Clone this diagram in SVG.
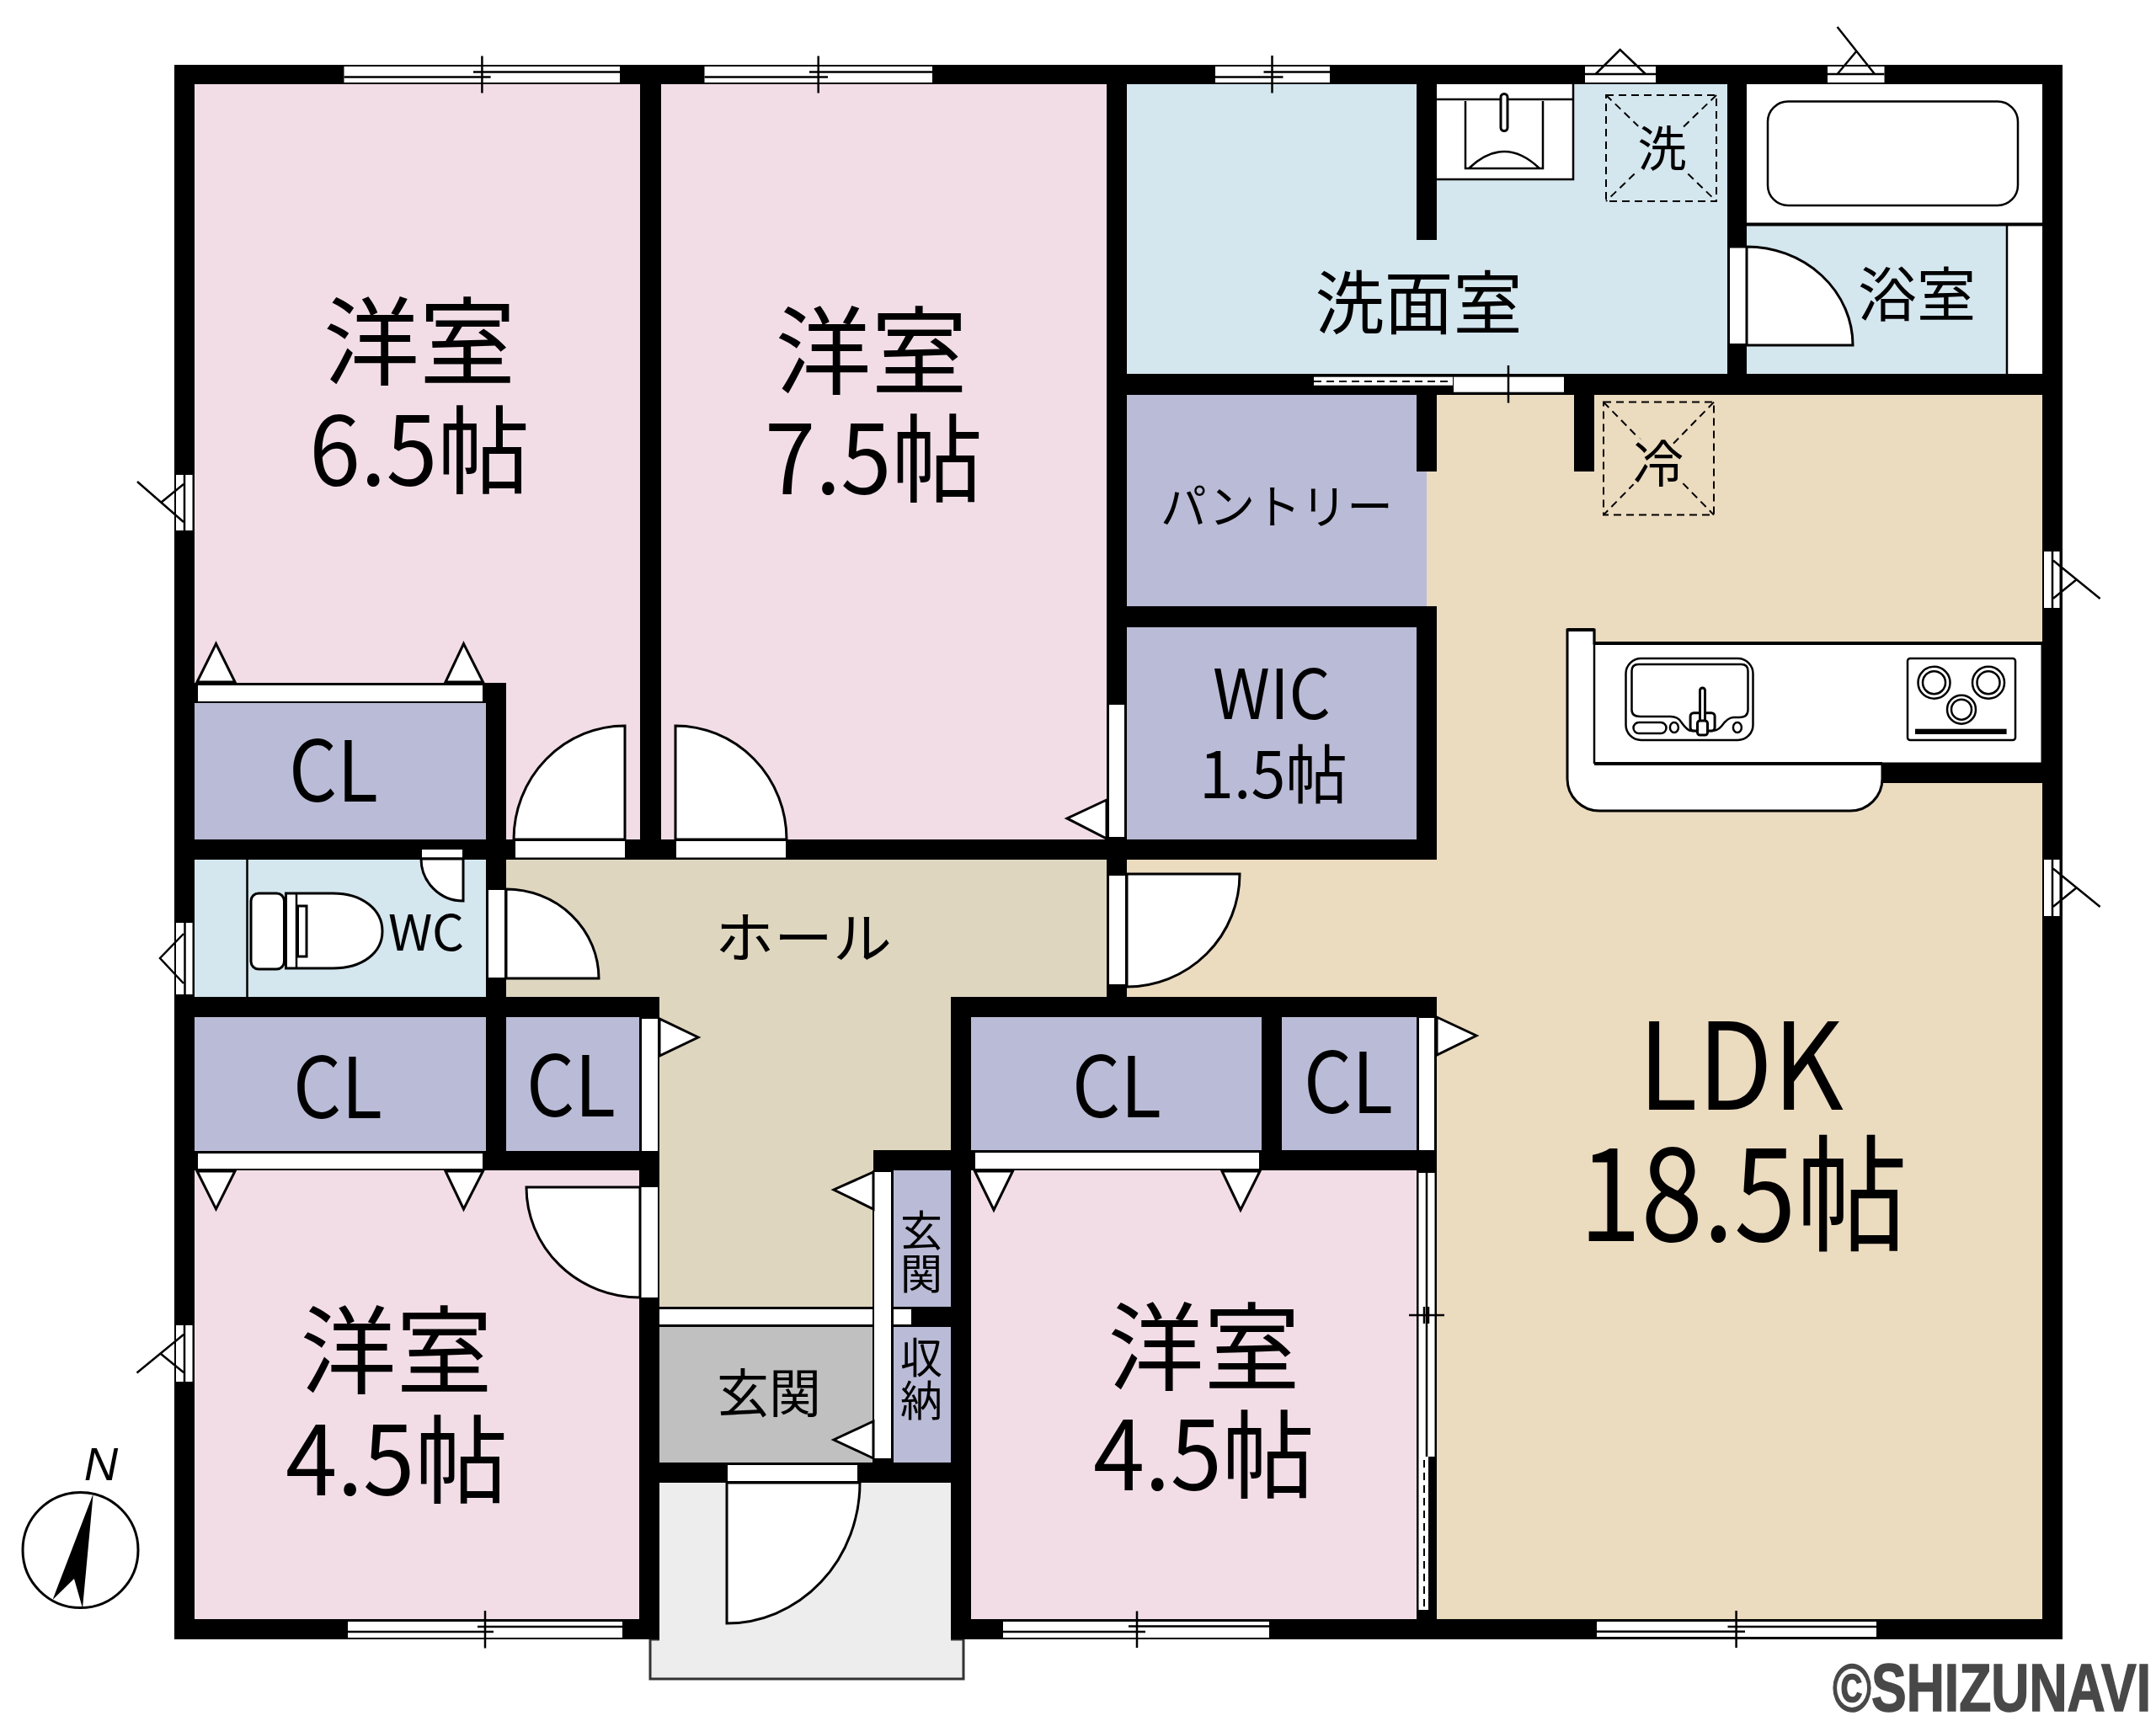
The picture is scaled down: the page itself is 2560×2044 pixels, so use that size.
<svg xmlns="http://www.w3.org/2000/svg" width="2560" height="2044" viewBox="0 0 2560 2044">
<style>
text{font-family:"Noto Sans CJK JP","Noto Sans",sans-serif;fill:#000}
.m{text-anchor:middle}
.pink{fill:#f2dde6}.blue{fill:#d4e6ee}.lav{fill:#babbd6}.ldk{fill:#ebdbbf}.hall{fill:#ded6bf}.gray{fill:#c0c0c0}.porch{fill:#ededed}
.w{fill:#000}
.o{fill:#fff}
.d{fill:#fff;stroke:#000;stroke-width:3;stroke-linejoin:miter}
.l{fill:none;stroke:#000;stroke-width:2.5}
.t{fill:none;stroke:#000;stroke-width:4}
.da{fill:none;stroke:#000;stroke-width:2;stroke-dasharray:9 6}
.r112{font-size:114px}
.cl{font-size:100px}
.v{font-size:50px}
</style>
<rect width="2560" height="2044" fill="#fff"/>

<g id="room-ldk"><rect class="ldk" x="1338" y="469" width="1087" height="1454"/></g>
<g id="room-hall"><path class="hall" d="M601,1020H1314V1184H1130V1552H783V1184H601Z"/></g>
<g id="room-genkan"><rect class="gray" x="783" y="1576" width="254" height="161"/></g>
<g id="porch"><rect class="porch" x="772" y="1947" width="372" height="47" stroke="#333" stroke-width="3"/><rect class="porch" x="783" y="1761" width="346" height="190"/></g>
<g id="room-western-65"><rect class="pink" x="231" y="100" width="529" height="897"/></g>
<g id="room-western-75"><rect class="pink" x="785" y="100" width="529" height="897"/></g>
<g id="room-western-45-left"><rect class="pink" x="231" y="1390" width="529" height="533"/></g>
<g id="room-western-45-right"><rect class="pink" x="1153" y="1390" width="529" height="533"/></g>
<g id="room-wash"><rect class="blue" x="1338" y="100" width="713" height="344"/></g>
<g id="room-bath"><rect class="o" x="2074" y="100" width="351" height="166"/><rect class="blue" x="2074" y="268" width="351" height="176"/><rect class="o" x="2383" y="268" width="42" height="176"/><path class="l" d="M2383,268V444"/><rect class="l" x="2099" y="120.500" width="297" height="123.500" rx="24"/><path class="t" d="M2074,266.500H2425"/></g>
<g id="room-wc"><rect class="blue" x="231" y="1020" width="346" height="164"/><path class="l" d="M293.500,1020V1184"/></g>
<g id="room-pantry"><rect class="lav" x="1338" y="469" width="356" height="251"/></g>
<g id="room-wic"><rect class="lav" x="1338" y="745" width="344" height="252"/></g>
<g id="room-cl-1"><rect class="lav" x="231" y="835" width="346" height="162"/></g>
<g id="room-cl-2"><rect class="lav" x="231" y="1208" width="346" height="159"/></g>
<g id="room-cl-3"><rect class="lav" x="601" y="1208" width="158" height="159"/></g>
<g id="room-cl-4"><rect class="lav" x="1153" y="1208" width="346" height="158"/></g>
<g id="room-cl-5"><rect class="lav" x="1522" y="1208" width="160" height="158"/></g>
<g id="room-storage-1"><rect class="lav" x="1061" y="1390" width="68" height="162"/></g>
<g id="room-storage-2"><rect class="lav" x="1061" y="1576" width="68" height="161"/></g>

<g id="walls" class="w">
<rect x="207" y="77" width="2242" height="23"/>
<rect x="207" y="77" width="24" height="1870"/>
<rect x="2425" y="77" width="24" height="1870"/>
<rect x="207" y="1923" width="576" height="24"/>
<rect x="1129" y="1923" width="1320" height="24"/>
<rect x="760" y="100" width="25" height="897"/>
<rect x="207" y="997" width="1499" height="24"/>
<rect x="207" y="811" width="394" height="24"/>
<rect x="577" y="811" width="24" height="186"/>
<rect x="577" y="997" width="24" height="393"/>
<rect x="207" y="1184" width="576" height="24"/>
<rect x="207" y="1367" width="576" height="23"/>
<rect x="759" y="1184" width="24" height="763"/>
<rect x="1129" y="1184" width="577" height="24"/>
<rect x="1129" y="1184" width="24" height="763"/>
<rect x="1498" y="1208" width="24" height="182"/>
<rect x="1682" y="1184" width="24" height="739"/>
<rect x="1153" y="1366" width="553" height="24"/>
<rect x="1037" y="1366" width="92" height="24"/>
<rect x="1036" y="1390" width="25" height="347"/>
<rect x="783" y="1552" width="347" height="24"/>
<rect x="760" y="1737" width="393" height="24"/>
<rect x="1314" y="100" width="24" height="1108"/>
<rect x="1314" y="444" width="1135" height="25"/>
<rect x="2051" y="100" width="23" height="344"/>
<rect x="1682" y="100" width="24" height="185"/>
<rect x="1682" y="469" width="24" height="91"/>
<rect x="1869" y="469" width="24" height="91"/>
<rect x="1338" y="720" width="368" height="25"/>
<rect x="1682" y="720" width="24" height="301"/>
<rect x="2234.500" y="908" width="191" height="22"/>
</g>

<g id="door-bands" class="o">
<rect x="235" y="814" width="338" height="19"/>
<rect x="235" y="1370" width="338" height="18"/>
<rect x="1158" y="1369" width="337" height="19"/>
<rect x="612" y="999" width="130" height="19.500"/>
<rect x="803" y="999" width="130" height="19.500"/>
<rect x="501" y="1009" width="48" height="9.500"/>
<rect x="580" y="1057" width="19" height="104"/>
<rect x="762" y="1210" width="19" height="157"/>
<rect x="761" y="1410" width="20" height="131"/>
<rect x="1317" y="837" width="18" height="157"/>
<rect x="1317" y="1040" width="19" height="129"/>
<rect x="1685" y="1209" width="18" height="157"/>
<rect x="783" y="1555" width="253" height="18"/>
<rect x="1061" y="1555" width="21" height="18"/>
<rect x="1038" y="1392" width="20" height="340"/>
<rect x="864" y="1740" width="154" height="19"/>
<rect x="2054" y="294.500" width="19" height="113.500"/>
<rect x="1560" y="447.700" width="165" height="10"/>
<rect x="1726" y="447.700" width="131" height="18"/>
<rect x="1684.500" y="1393" width="19" height="337"/>
<rect x="1684.500" y="1730" width="11.500" height="182"/>
</g>
<g id="door-band-lines">
<path class="l" d="M1694,1393V1730"/>
<path class="da" d="M1691,1734V1912"/>
<path class="l" d="M1673,1562H1715M1691,1552V1572M1696,1552V1572"/>
<path class="da" d="M1560,453H1725"/>
<path class="l" d="M1791,434V478.500"/>
</g>

<g id="doors">
<path class="d" d="M742,997V862A132,135 0 0 0 610,997Z"/>
<path class="d" d="M802,997V862A132,135 0 0 1 934,997Z"/>
<path class="d" d="M601,1162H711A110,106 0 0 0 601,1056Z"/>
<path class="d" d="M550,1020V1070A50,50 0 0 1 500,1020Z"/>
<path class="d" d="M760,1410H625A135,131 0 0 0 760,1541Z"/>
<path class="d" d="M1338,1038H1472A134,134 0 0 1 1338,1172Z"/>
<path class="d" d="M2074,410H2200A126,117 0 0 0 2074,293Z"/>
<path class="d" d="M863,1761V1928A158,167 0 0 0 1021,1761Z"/>
</g>

<g id="closet-arrows">
<path class="d" d="M234,810L279,810L256.500,764.500Z"/>
<path class="d" d="M529,810L573.500,810L550.500,764.500Z"/>
<path class="d" d="M234,1391L279,1391L256.500,1436Z"/>
<path class="d" d="M529,1391L573.500,1391L550.500,1436Z"/>
<path class="d" d="M1157.500,1391L1202.500,1391L1180,1437Z"/>
<path class="d" d="M1451,1391L1496,1391L1473,1437Z"/>
<path class="d" d="M783,1210L783,1254L829,1232Z"/>
<path class="d" d="M1706,1208L1706,1253L1753,1230Z"/>
<path class="d" d="M1314,950L1314,996L1267,972Z"/>
<path class="d" d="M1037,1392L1037,1436L990,1413Z"/>
<path class="d" d="M1037,1688L1037,1732L990,1710Z"/>
</g>

<g id="windows">
<rect class="o" x="408.500" y="79" width="327.500" height="19"/>
<rect class="o" x="836.500" y="79" width="270.500" height="19"/>
<rect class="o" x="1443" y="79" width="136" height="19"/>
<rect class="o" x="1882" y="79" width="84" height="19"/>
<rect class="o" x="2170" y="79" width="67.500" height="19"/>
<rect class="o" x="413" y="1926" width="326" height="19"/>
<rect class="o" x="1191" y="1926" width="316" height="19"/>
<rect class="o" x="1896" y="1926" width="332" height="18"/>
<rect class="o" x="209" y="564" width="19.500" height="66"/>
<rect class="o" x="209" y="1096" width="19.500" height="85"/>
<rect class="o" x="209" y="1574" width="19.500" height="67"/>
<rect class="o" x="2427" y="655" width="18.500" height="67"/>
<rect class="o" x="2427" y="1021" width="18.500" height="67"/>
<path class="l" d="M572.400,66.500V110.500M562,85.600H736M408.500,91.400H582.600"/>
<path class="l" d="M971.700,66.500V110.500M961,85.600H1107M836.500,91.400H983"/>
<path class="l" d="M1510.500,66V110.500M1500.500,85.600H1579M1443,91.400H1523.500"/>
<path class="l" d="M1350,1913.500V1957M1340,1931.500H1507M1191,1938H1360"/>
<path class="l" d="M576,1913V1957.500M567,1932H739M413,1938H586"/>
<path class="l" d="M2061.600,1913V1957M2051.500,1932H2228M1896,1937.700H2072"/>
<path class="l" d="M1882,88H1966M1894.600,88L1923.700,59L1954,88"/>
<path class="l" d="M2170,88H2237.500M2181.600,32L2226,88M2205,60L2181.600,88"/>
<path class="l" d="M219,564V630M218,575L191,597M218,620L163,572"/>
<path class="l" d="M219.500,1096V1181M218,1109L190,1138L218,1168"/>
<path class="l" d="M219,1574V1641M218,1585L162.500,1630.500M191,1608L218,1630"/>
<path class="l" d="M2437,655V722M2438,665.700L2493.600,711M2464.800,689L2438,710.700"/>
<path class="l" d="M2437,1021V1088M2438,1031.700L2493.600,1077M2464.800,1055L2438,1076.700"/>
</g>

<g id="washbasin">
<rect class="o" x="1706" y="100" width="162" height="113"/>
<path class="l" d="M1868,100V213H1706M1706,118H1868"/>
<path class="l" d="M1740,120V200H1832V120M1744,200Q1786,160 1828,200"/>
<rect class="d" x="1782" y="111.500" width="8" height="44" rx="4"/>
</g>
<g id="washer-space">
<rect class="da" x="1907" y="113" width="131" height="126"/>
<path class="da" d="M1907,113L2038,239M2038,113L1907,239"/>
<text class="m" x="1973.500" y="198" font-size="58" stroke="#d4e6ee" stroke-width="10" paint-order="stroke">洗</text>
</g>
<g id="fridge-space">
<rect class="da" x="1904" y="477.600" width="131" height="134"/>
<path class="da" d="M1904,477.600L2035,611.600M2035,477.600L1904,611.600"/>
<text class="m" x="1969" y="573" font-size="60" stroke="#ebdbbf" stroke-width="10" paint-order="stroke">冷</text>
</g>

<g id="toilet">
<rect class="d" x="298" y="1061" width="39.500" height="90" rx="9"/>
<path class="d" d="M339.500,1061H395C430,1061 454,1080 454,1106C454,1132 430,1150 395,1150H339.500Z"/>
<path class="l" d="M352,1061V1150"/>
<rect class="d" x="353.500" y="1076" width="10.500" height="60"/>
</g>

<g id="kitchen">
<path class="d" d="M1861,748H1893V764H2425V907H2235V925A38,38 0 0 1 2197,963H1899A38,38 0 0 1 1861,925Z"/>
<path class="t" d="M1861,748H1893M1893,764H2425M1893,907H2235"/>
<path class="l" d="M1893,748V907"/>
<g transform="translate(-1.5,0)">
<rect class="l" x="1932" y="782" width="151" height="97" rx="18"/>
<path class="l" d="M1939,797Q1939,789 1947,789H2069Q2077,789 2077,797V843Q2077,852 2067,852H2060Q2053,852 2046,862Q2041,868 2034,868H2010Q2005,868 1998,858Q1994,851 1985,851H1949Q1939,851 1939,843Z"/>
<rect class="l" x="1941" y="858" width="39" height="13" rx="6.500"/>
<ellipse class="l" cx="1989.400" cy="864" rx="5" ry="6"/>
<ellipse class="l" cx="2064.400" cy="864" rx="5" ry="6"/>
<rect class="d" x="2008.600" y="846.700" width="29" height="21.300" rx="4"/>
<rect class="d" x="2020" y="817" width="6" height="40" rx="3"/>
<rect class="d" x="2017" y="856" width="12" height="17" rx="3"/>
</g>
<g transform="translate(-3,0)">
<rect class="l" x="2268" y="782" width="128" height="97" rx="3"/>
<circle class="l" cx="2299.500" cy="810.700" r="19"/><circle class="l" cx="2299.500" cy="810.700" r="13.500"/>
<circle class="l" cx="2364" cy="810.700" r="19"/><circle class="l" cx="2364" cy="810.700" r="13.500"/>
<circle class="l" cx="2332" cy="842.700" r="17"/><circle class="l" cx="2332" cy="842.700" r="12"/>
<rect class="w" x="2277" y="865.700" width="108.600" height="6.300"/>
</g>
</g>

<g id="labels">
<text class="m r112" x="498" y="448">洋室</text>
<text class="r112" x="367" y="577" textLength="262" lengthAdjust="spacingAndGlyphs">6.5帖</text>
<text class="m r112" x="1034.500" y="459">洋室</text>
<text class="r112" x="908" y="587" textLength="259" lengthAdjust="spacingAndGlyphs">7.5帖</text>
<text class="m r112" x="470.500" y="1646">洋室</text>
<text class="r112" x="339" y="1776" textLength="264" lengthAdjust="spacingAndGlyphs">4.5帖</text>
<text class="m r112" x="1429.500" y="1642">洋室</text>
<text class="r112" x="1298" y="1770" textLength="263" lengthAdjust="spacingAndGlyphs">4.5帖</text>
<text x="1945" y="1318" font-size="143" textLength="244" lengthAdjust="spacingAndGlyphs">LDK</text>
<text x="1875" y="1474" font-size="150" textLength="390" lengthAdjust="spacingAndGlyphs">18.5帖</text>
<text x="1440" y="854" font-size="82" textLength="140" lengthAdjust="spacingAndGlyphs">WIC</text>
<text x="1424" y="948" font-size="76" textLength="176" lengthAdjust="spacingAndGlyphs">1.5帖</text>
<text class="cl" x="343" y="952" textLength="106" lengthAdjust="spacingAndGlyphs">CL</text>
<text class="cl" x="348" y="1328" textLength="106" lengthAdjust="spacingAndGlyphs">CL</text>
<text class="cl" x="625" y="1326" textLength="106" lengthAdjust="spacingAndGlyphs">CL</text>
<text class="cl" x="1273" y="1327" textLength="106" lengthAdjust="spacingAndGlyphs">CL</text>
<text class="cl" x="1548" y="1322" textLength="106" lengthAdjust="spacingAndGlyphs">CL</text>
<text x="461" y="1129" font-size="58" textLength="90" lengthAdjust="spacingAndGlyphs">WC</text>
<text class="m" x="1684.500" y="390" font-size="82">洗面室</text>
<text class="m" x="2276" y="376" font-size="70">浴室</text>
<text x="1378" y="622" font-size="56" textLength="276" lengthAdjust="spacingAndGlyphs">パントリー</text>
<text x="849" y="1138" font-size="66" textLength="210" lengthAdjust="spacingAndGlyphs">ホール</text>
<text class="m" x="913" y="1678" font-size="62">玄関</text>
<text class="m v" x="1094" y="1480">玄</text>
<text class="m v" x="1094" y="1531">関</text>
<text class="m v" x="1094" y="1631">収</text>
<text class="m v" x="1094" y="1682">納</text>
</g>

<g id="compass">
<circle cx="95.500" cy="1841" r="68.500" fill="#fff" stroke="#000" stroke-width="3"/>
<path class="w" d="M110.700,1774L62.500,1900L88,1875L98,1910Z"/>
<text class="m" x="120" y="1758" style="font-family:'Liberation Sans',sans-serif;font-style:italic" font-size="56">N</text>
</g>
<g id="watermark">
<text x="2176" y="2032" textLength="378" lengthAdjust="spacingAndGlyphs" font-size="80" font-weight="700" stroke="#484848" stroke-width="1.5" style="font-family:'Liberation Sans',sans-serif;fill:#484848">©SHIZUNAVI</text>
</g>
</svg>
